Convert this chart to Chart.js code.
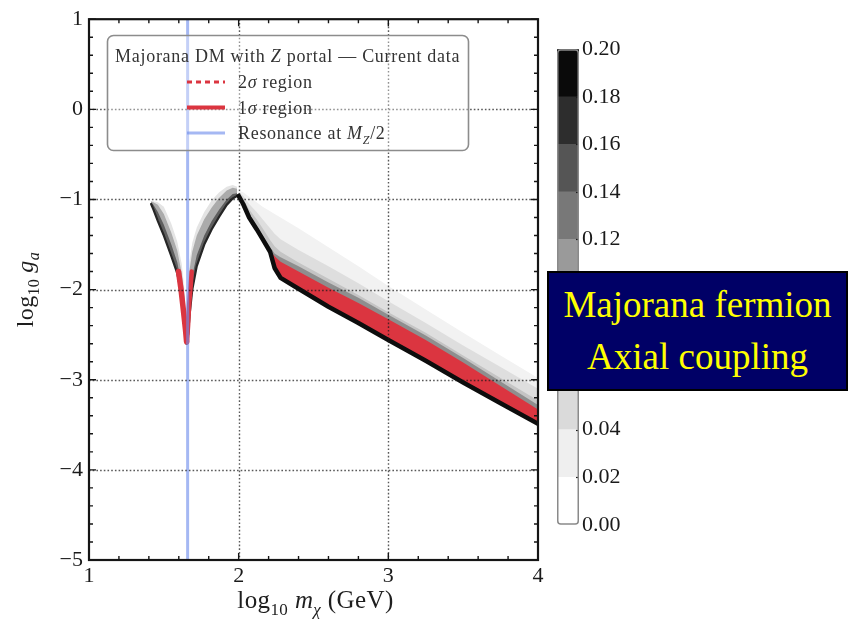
<!DOCTYPE html>
<html>
<head>
<meta charset="utf-8">
<title>Majorana DM with Z portal</title>
<script src="https://cdn.jsdelivr.net/npm/chart.js@4.4.1/dist/chart.umd.min.js"></script>
<style>
  html, body { margin: 0; padding: 0; background: #fff; overflow: hidden; }
  #wrap { position: relative; width: 850px; height: 621px; }
  #main { position: absolute; left: 0; top: 0; }
  #cbar { position: absolute; left: 557px; top: 33px; }
  #tag {
    position: absolute; left: 547px; top: 271px;
    width: 297px; height: 110px; padding-top: 6px;
    background: #000066; border: 2px solid #000;
    color: #ffff00; font-family: "Liberation Serif", "Times New Roman", serif;
    font-size: 37px; line-height: 52px; text-align: center;
  }
</style>
</head>
<body>
<div id="wrap">
  <canvas id="main" width="850" height="621"></canvas>
  <canvas id="cbar" width="102" height="508"></canvas>
  <div id="tag"><div>Majorana fermion</div><div>Axial coupling</div></div>
</div>
<script>
// ---- axis ticks ----
const massTicks = [1, 2, 3, 4];
const couplingTicks = [-5, -4, -3, -2, -1, 0, 1];

// ---- Z resonance at M_Z / 2 ----
const resonanceX = [1.659, 1.659];
const resonanceY = [-5, 1];

// ---- left arm of the resonance funnel ----
const leftArmX     = [1.415, 1.43, 1.46, 1.50, 1.55, 1.59, 1.62, 1.64, 1.652];
const leftArmOuter = [-1.05, -1.11, -1.24, -1.40, -1.63, -1.82, -2.08, -2.36, -2.60];
const leftArmMid   = [-1.03, -1.06, -1.14, -1.28, -1.50, -1.70, -1.96, -2.26, -2.60];
const leftArmInner = [-1.02, -1.03, -1.06, -1.16, -1.37, -1.57, -1.82, -2.12, -2.60];
const leftArmFaint = [-1.02, -1.02, -1.03, -1.08, -1.27, -1.47, -1.72, -2.04, -2.60];

// ---- right arm of the resonance funnel ----
const rightArmX     = [1.652, 1.662, 1.672, 1.69, 1.72, 1.77, 1.82, 1.87, 1.92, 1.96, 1.99];
const rightArmOuter = [-2.60, -2.50, -2.28, -2.00, -1.74, -1.50, -1.33, -1.19, -1.06, -0.99, -0.96];
const rightArmMid   = [-2.60, -2.35, -2.10, -1.85, -1.62, -1.40, -1.24, -1.11, -1.00, -0.94, -0.93];
const rightArmInner = [-2.60, -2.05, -1.78, -1.58, -1.40, -1.22, -1.09, -0.98, -0.90, -0.87, -0.88];
const rightArmFaint = [-2.60, -1.95, -1.68, -1.48, -1.31, -1.14, -1.01, -0.92, -0.86, -0.84, -0.86];

// ---- 1 sigma strips inside the funnel ----
const sigmaLeftX  = [1.598, 1.615, 1.632, 1.645, 1.652];
const sigmaLeftY  = [-1.80, -2.00, -2.25, -2.45, -2.58];
const sigmaRightX = [1.655, 1.662, 1.670, 1.680, 1.686];
const sigmaRightY = [-2.58, -2.40, -2.15, -1.95, -1.80];

// ---- heavy-mass band: lower boundary and p-value contours ----
const bandX        = [2.00, 2.03, 2.07, 2.12, 2.16, 2.21, 2.24, 2.28, 2.40, 2.60, 2.80, 3.00, 3.25, 3.50, 3.75, 4.00];
const bandLow      = [-0.96, -1.05, -1.20, -1.33, -1.44, -1.58, -1.76, -1.87, -1.99, -2.19, -2.37, -2.56, -2.79, -3.03, -3.26, -3.49];
const bandTopDark  = [-0.94, -1.02, -1.16, -1.29, -1.40, -1.53, -1.60, -1.64, -1.74, -1.92, -2.09, -2.28, -2.51, -2.76, -3.02, -3.28];
const bandTopMid   = [-0.93, -0.99, -1.11, -1.22, -1.32, -1.45, -1.52, -1.58, -1.70, -1.88, -2.06, -2.25, -2.48, -2.73, -2.98, -3.23];
const bandTopLight = [-0.92, -0.96, -1.05, -1.14, -1.22, -1.32, -1.38, -1.44, -1.56, -1.74, -1.93, -2.13, -2.37, -2.62, -2.86, -3.10];
const bandTopFaint = [-0.90, -0.92, -0.97, -1.03, -1.08, -1.13, -1.16, -1.20, -1.32, -1.53, -1.74, -1.96, -2.22, -2.48, -2.73, -2.98];

// ---- 1 sigma region along the band ----
const sigmaBandX   = [2.225, 2.24, 2.28, 2.40, 2.60, 2.80, 3.00, 3.25, 3.50, 3.75, 4.00];
const sigmaBandLow = [-1.68, -1.76, -1.87, -1.99, -2.19, -2.37, -2.56, -2.79, -3.03, -3.26, -3.49];
const sigmaBandTop = [-1.60, -1.63, -1.69, -1.80, -1.98, -2.15, -2.33, -2.56, -2.81, -3.07, -3.33];

// ---- colour bar ----
const colorbarLevels = [0.00, 0.02, 0.04, 0.06, 0.08, 0.10, 0.12, 0.14, 0.16, 0.18, 0.20];
const colorbarShades = ['#ffffff', '#efefef', '#dadada', '#c6c6c6', '#b0b0b0', '#9a9a9a', '#787878', '#555555', '#2d2d2d', '#0a0a0a'];

const SERIF = '"Liberation Serif", "Times New Roman", serif';
const RED = '#db3540';
const BLUE = 'rgba(110,140,235,0.62)';

function pts(xs, ys) { return xs.map((x, i) => ({ x: x, y: ys[i] })); }

function edge(xs, ys, color, width, order) {
  return { data: pts(xs, ys), borderColor: color, borderWidth: width, backgroundColor: 'rgba(0,0,0,0)',
           fill: false, order: order, pointRadius: 0, borderCapStyle: 'round', borderJoinStyle: 'round' };
}
function layer(xs, ys, target, color, order) {
  return { data: pts(xs, ys), borderColor: 'rgba(0,0,0,0)', borderWidth: 1, backgroundColor: color,
           fill: target, order: order, pointRadius: 0 };
}

// draw a run of text pieces (plain / italic / subscript)
function richText(ctx, parts, x, y, size, align, spacing) {
  const fontOf = p => (p.italic ? 'italic ' : '') + Math.round(p.sub ? size * 0.68 : size) + 'px ' + SERIF;
  ctx.letterSpacing = (spacing || 0) + 'px';
  let w = 0;
  parts.forEach(p => { ctx.font = fontOf(p); p.w = ctx.measureText(p.t).width; w += p.w; });
  let cx = align === 'center' ? x - w / 2 : x;
  ctx.textAlign = 'left';
  ctx.textBaseline = 'alphabetic';
  parts.forEach(p => {
    ctx.font = fontOf(p);
    ctx.fillText(p.t, cx, y + (p.sub ? size * 0.27 : 0));
    cx += p.w;
  });
  ctx.letterSpacing = '0px';
}

const minorStep = 0.2;

// dotted grid above the regions, box frame and inward ticks
const axisDecor = {
  id: 'axisDecor',
  afterDatasetsDraw(chart) {
    const { ctx, chartArea: a, scales: { x, y } } = chart;
    ctx.save();
    ctx.strokeStyle = 'rgba(25,25,25,0.72)';
    ctx.lineWidth = 1.4;
    ctx.setLineDash([1.6, 2.1]);
    x.ticks.forEach(t => {
      if (t.value > x.min && t.value < x.max) {
        const p = Math.round(x.getPixelForValue(t.value)) + 0.5;
        ctx.beginPath(); ctx.moveTo(p, a.top); ctx.lineTo(p, a.bottom); ctx.stroke();
      }
    });
    y.ticks.forEach(t => {
      if (t.value > y.min && t.value < y.max) {
        const p = Math.round(y.getPixelForValue(t.value)) + 0.5;
        ctx.beginPath(); ctx.moveTo(a.left, p); ctx.lineTo(a.right, p); ctx.stroke();
      }
    });
    ctx.setLineDash([]);
    ctx.strokeStyle = '#151515';
    ctx.lineWidth = 1.4;
    for (let k = 0; x.min + k * minorStep <= x.max + 1e-9; k++) {
      const v = x.min + k * minorStep;
      const len = Math.abs(v - Math.round(v)) < 1e-6 ? 7 : 4;
      const p = x.getPixelForValue(v);
      ctx.beginPath();
      ctx.moveTo(p, a.bottom); ctx.lineTo(p, a.bottom - len);
      ctx.moveTo(p, a.top); ctx.lineTo(p, a.top + len);
      ctx.stroke();
    }
    for (let k = 0; y.min + k * minorStep <= y.max + 1e-9; k++) {
      const v = y.min + k * minorStep;
      const len = Math.abs(v - Math.round(v)) < 1e-6 ? 7 : 4;
      const p = y.getPixelForValue(v);
      ctx.beginPath();
      ctx.moveTo(a.left, p); ctx.lineTo(a.left + len, p);
      ctx.moveTo(a.right, p); ctx.lineTo(a.right - len, p);
      ctx.stroke();
    }
    ctx.lineWidth = 2.2;
    ctx.strokeRect(a.left, a.top, a.right - a.left, a.bottom - a.top);
    ctx.restore();
  }
};

// legend box in the upper part of the plot
const legendEntries = [
  { parts: [{ t: '2' }, { t: 'σ', italic: true }, { t: ' region' }], color: RED, dash: [5, 4], width: 3 },
  { parts: [{ t: '1' }, { t: 'σ', italic: true }, { t: ' region' }], color: RED, dash: [], width: 4 },
  { parts: [{ t: 'Resonance at ' }, { t: 'M', italic: true }, { t: 'Z', italic: true, sub: true }, { t: '/2' }], color: BLUE, dash: [], width: 3 }
];
const legendTitle = [{ t: 'Majorana DM with ' }, { t: 'Z', italic: true }, { t: ' portal — Current data' }];

const legendBox = {
  id: 'legendBox',
  afterDatasetsDraw(chart) {
    const ctx = chart.ctx;
    ctx.save();
    ctx.beginPath();
    ctx.roundRect(107.5, 35.5, 361, 115, 6);
    ctx.fillStyle = 'rgba(255,255,255,0.35)';
    ctx.fill();
    ctx.strokeStyle = '#8c8c8c';
    ctx.lineWidth = 1.6;
    ctx.stroke();
    ctx.fillStyle = '#333';
    richText(ctx, legendTitle, 115, 62, 18, 'left', 0.72);
    legendEntries.forEach((e, i) => {
      const yRow = 82 + i * 25.5;
      ctx.strokeStyle = e.color;
      ctx.lineWidth = e.width;
      ctx.setLineDash(e.dash);
      ctx.beginPath(); ctx.moveTo(187, yRow); ctx.lineTo(225, yRow); ctx.stroke();
      ctx.setLineDash([]);
      ctx.fillStyle = '#333';
      richText(ctx, e.parts, 238, yRow + 6, 18, 'left', 0.7);
    });
    ctx.restore();
  }
};

// axis titles with subscripts
const axisTitles = {
  id: 'axisTitles',
  afterDraw(chart) {
    const { ctx, chartArea: a } = chart;
    ctx.save();
    ctx.fillStyle = '#1e1e1e';
    richText(ctx, [{ t: 'log' }, { t: '10', sub: true }, { t: ' ' }, { t: 'm', italic: true }, { t: 'χ', italic: true, sub: true }, { t: ' (GeV)' }],
             (a.left + a.right) / 2 + 2, 608, 25, 'center', 0.4);
    ctx.translate(33, (a.top + a.bottom) / 2);
    ctx.rotate(-Math.PI / 2);
    richText(ctx, [{ t: 'log' }, { t: '10', sub: true }, { t: ' ' }, { t: 'g', italic: true }, { t: 'a', italic: true, sub: true }],
             0, 0, 24, 'center', 0.3);
    ctx.restore();
  }
};

const tickFont = { family: SERIF, size: 22 };
const minusFmt = v => (v < 0 ? '−' + Math.abs(v) : String(v));

new Chart(document.getElementById('main'), {
  type: 'line',
  data: {
    datasets: [
      edge(resonanceX, resonanceY, BLUE, 3, 0),                         // 0
      edge(bandX, bandLow, '#0d0d0d', 4.5, 2),                          // 1
      edge(sigmaBandX, sigmaBandLow, 'rgba(0,0,0,0)', 1, 50),           // 2
      layer(sigmaBandX, sigmaBandTop, 2, RED, 3),                       // 3
      layer(bandX, bandTopDark, 1, '#8e8e8e', 4),                       // 4
      layer(bandX, bandTopMid, 1, '#c4c4c4', 5),                        // 5
      layer(bandX, bandTopLight, 1, '#dedede', 6),                      // 6
      layer(bandX, bandTopFaint, 1, '#f2f2f2', 7),                      // 7
      edge(leftArmX, leftArmOuter, '#262626', 2.2, 2),                  // 8
      layer(leftArmX, leftArmMid, 8, '#5e5e5e', 4),                     // 9
      layer(leftArmX, leftArmInner, 8, '#ababab', 5),                   // 10
      layer(leftArmX, leftArmFaint, 8, '#e4e4e4', 6),                   // 11
      edge(rightArmX, rightArmOuter, '#262626', 2.2, 2),                // 12
      layer(rightArmX, rightArmMid, 12, '#5e5e5e', 4),                  // 13
      layer(rightArmX, rightArmInner, 12, '#ababab', 5),                // 14
      layer(rightArmX, rightArmFaint, 12, '#e4e4e4', 6),                // 15
      edge(sigmaLeftX, sigmaLeftY, RED, 5.5, 1),                        // 16
      edge(sigmaRightX, sigmaRightY, RED, 4.5, 1)                       // 17
    ]
  },
  options: {
    responsive: false,
    animation: false,
    layout: { padding: { left: 0, right: 312, top: 16, bottom: 0 } },
    plugins: { legend: { display: false }, tooltip: { enabled: false } },
    elements: { line: { tension: 0 }, point: { radius: 0 } },
    scales: {
      x: {
        type: 'linear', min: 1, max: 4,
        afterBuildTicks: s => { s.ticks = massTicks.map(v => ({ value: v })); },
        afterFit: s => { s.height = 61; },
        grid: { display: false, drawTicks: false },
        border: { display: false },
        ticks: { font: tickFont, color: '#1a1a1a', padding: 3, maxRotation: 0, callback: minusFmt }
      },
      y: {
        type: 'linear', min: -5, max: 1,
        afterBuildTicks: s => { s.ticks = couplingTicks.map(v => ({ value: v })); },
        afterFit: s => { s.width = 89; },
        grid: { display: false, drawTicks: false },
        border: { display: false },
        ticks: { font: tickFont, color: '#1a1a1a', padding: 6, callback: minusFmt }
      }
    }
  },
  plugins: [axisDecor, legendBox, axisTitles]
});

// colour bar frame and inner ticks
const colorbarFrame = {
  id: 'colorbarFrame',
  afterDatasetsDraw(chart) {
    const { ctx, chartArea: a, scales: { y } } = chart;
    ctx.save();
    ctx.strokeStyle = '#1a1a1a';
    ctx.lineWidth = 1.2;
    colorbarLevels.forEach((v, i) => {
      if (i === 0 || i === colorbarLevels.length - 1) return;
      const p = Math.round(y.getPixelForValue(v)) + 0.5;
      ctx.beginPath(); ctx.moveTo(a.right - 3, p); ctx.lineTo(a.right, p); ctx.stroke();
    });
    ctx.beginPath();
    ctx.roundRect(a.left + 0.75, a.top + 0.75, a.right - a.left - 1.5, a.bottom - a.top - 1.5, 3);
    ctx.strokeStyle = '#8a8a8a';
    ctx.lineWidth = 1.5;
    ctx.stroke();
    ctx.restore();
  }
};

new Chart(document.getElementById('cbar'), {
  type: 'bar',
  data: {
    labels: ['p'],
    datasets: colorbarShades.map((c, i) => ({
      data: [[colorbarLevels[i], colorbarLevels[i + 1]]],
      backgroundColor: c, borderWidth: 0, grouped: false,
      barPercentage: 1, categoryPercentage: 1
    }))
  },
  options: {
    responsive: false,
    animation: false,
    layout: { padding: { left: 0, right: 0, top: 14, bottom: 14 } },
    plugins: { legend: { display: false }, tooltip: { enabled: false } },
    scales: {
      x: { display: false },
      y: {
        position: 'right', min: 0, max: 0.2,
        afterBuildTicks: s => { s.ticks = colorbarLevels.map(v => ({ value: v })); },
        afterFit: s => { s.width = 80; },
        grid: { display: false, drawTicks: false },
        border: { display: false },
        ticks: { font: { family: SERIF, size: 22 }, color: '#1a1a1a', padding: 3, callback: v => v.toFixed(2) }
      }
    }
  },
  plugins: [colorbarFrame]
});
</script>
</body>
</html>
